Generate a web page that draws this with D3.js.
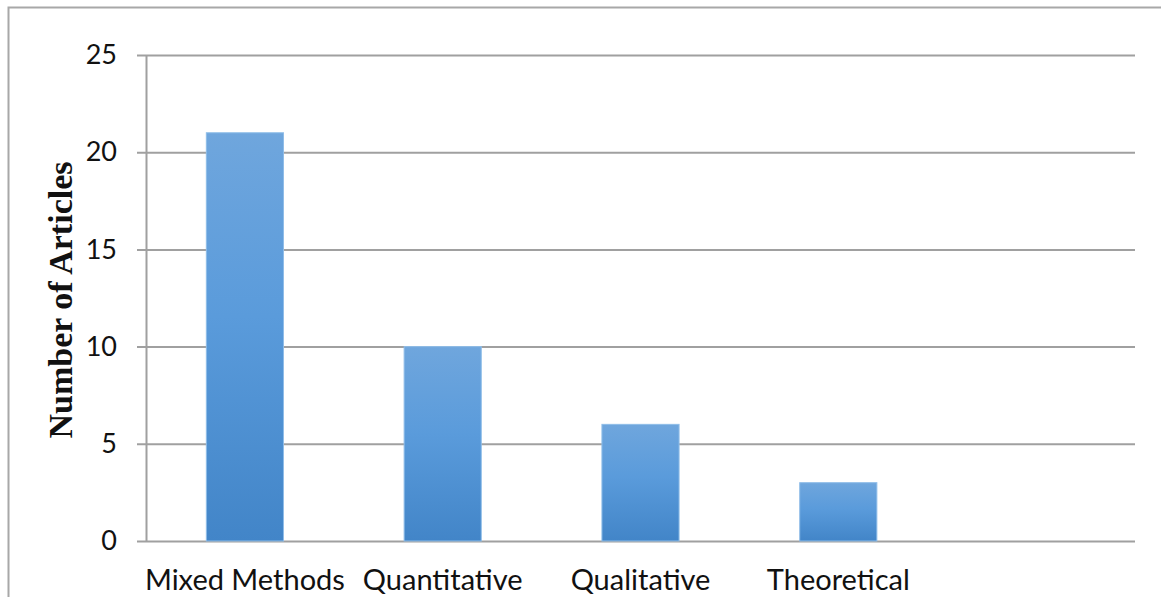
<!DOCTYPE html>
<html>
<head>
<meta charset="utf-8">
<script src="https://cdn.jsdelivr.net/npm/d3@7"></script>
<style>
  html, body { margin: 0; padding: 0; background: #fff; }
  svg { display: block; }
</style>
</head>
<body>
<svg id="chart" width="1161" height="597"></svg>
<script>
// Research approach of reviewed articles
const categories = ["Mixed Methods", "Quantitative", "Qualitative", "Theoretical", ""];
const articleCounts = [21, 10, 6, 3, null];
const yTicks = [0, 5, 10, 15, 20, 25];
const yTitle = "Number of Articles";

const svg = d3.select("#chart");
const W = 1161, H = 597;
const plot = { left: 146, right: 1135, top: 55, bottom: 541 };

// chart frame
svg.append("path")
  .attr("d", `M8.5,${H} L8.5,7.5 L${W},7.5`)
  .attr("fill", "none")
  .attr("stroke", "#a8a8a8")
  .attr("stroke-width", 2);

const x = d3.scaleBand()
  .domain(categories.map((c, i) => i))
  .range([plot.left, plot.right])
  .paddingInner(0.61)
  .paddingOuter(0.305);

const y = d3.scaleLinear().domain([0, 25]).range([plot.bottom, plot.top]);

// bar gradient
const defs = svg.append("defs");
const grad = defs.append("linearGradient")
  .attr("id", "barFill")
  .attr("x1", 0).attr("y1", 0).attr("x2", 0).attr("y2", 1);
grad.append("stop").attr("offset", "0%").attr("stop-color", "#6fa6dd");
grad.append("stop").attr("offset", "45%").attr("stop-color", "#5a9bdb");
grad.append("stop").attr("offset", "100%").attr("stop-color", "#4285c8");

// gridlines and value axis
const yAxis = svg.append("g")
  .attr("transform", `translate(${plot.left},0)`)
  .call(d3.axisLeft(y).tickValues(yTicks).tickSize(9).tickPadding(20)
    .tickFormat(d3.format("d")));
yAxis.select(".domain")
  .attr("stroke", "#a0a0a0").attr("stroke-width", 2)
  .attr("d", `M0.5,${plot.top} V${plot.bottom}`);
yAxis.selectAll(".tick line")
  .attr("stroke", "#a0a0a0").attr("stroke-width", 2)
  .attr("x2", plot.right - plot.left).attr("x1", -9);
yAxis.selectAll(".tick text")
  .attr("fill", "#111")
  .style("font-family", "Lato, 'Open Sans', sans-serif")
  .style("font-size", "27px");

// bars
const data = categories.map((c, i) => ({ i, c, v: articleCounts[i] })).filter(d => d.v != null);
svg.append("g").selectAll("rect")
  .data(data)
  .join("rect")
  .attr("x", d => x(d.i))
  .attr("width", x.bandwidth())
  .attr("y", d => y(d.v))
  .attr("height", d => y(0) - y(d.v))
  .attr("fill", "url(#barFill)")
  .attr("stroke", "#8fbde8")
  .attr("stroke-width", 1);

// category labels
const xAxis = svg.append("g")
  .attr("transform", `translate(0,${plot.bottom})`)
  .call(d3.axisBottom(x).tickSize(0).tickPadding(28).tickFormat(i => categories[i]));
xAxis.select(".domain").remove();
xAxis.selectAll(".tick text")
  .attr("fill", "#111")
  .style("font-family", "Lato, 'Open Sans', sans-serif")
  .style("font-size", "29px");

// axis title
svg.append("text")
  .attr("transform", `translate(72,${(plot.top + plot.bottom) / 2 + 2}) rotate(-90)`)
  .attr("text-anchor", "middle")
  .style("font-family", "'Liberation Serif', 'Times New Roman', serif")
  .style("font-weight", "bold")
  .style("font-size", "34px")
  .attr("fill", "#111")
  .text(yTitle);
</script>
</body>
</html>
